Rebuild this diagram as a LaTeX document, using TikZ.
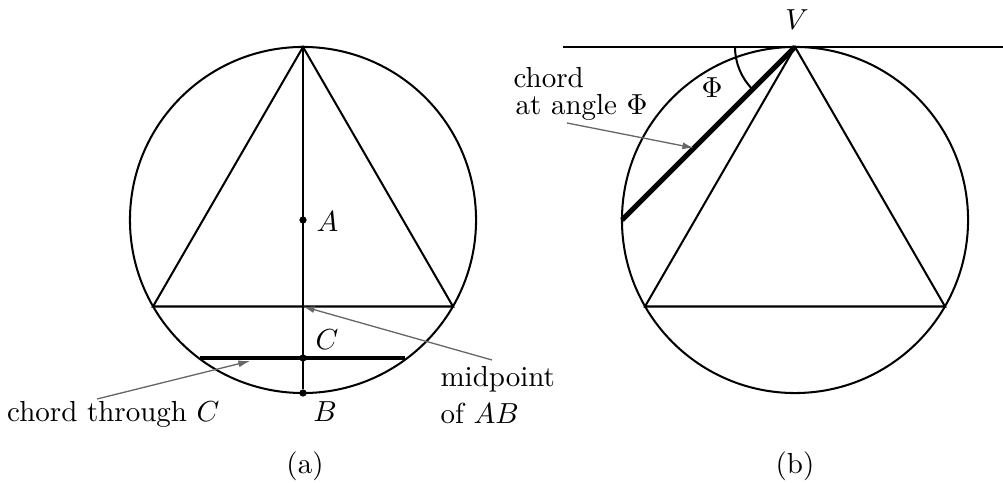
\documentclass[tikz,border=0pt]{standalone}
\usetikzlibrary{arrows.meta,calc}
\begin{document}
\begin{tikzpicture}[x=0.345pt,y=-0.345pt,
  thinline/.style={line width=0.7pt},
  thickchord/.style={line width=1.6pt},
  leader/.style={black!60, line width=0.45pt, -{Latex[length=4pt,width=2.4pt]}},
  dot/.style={circle, fill, inner sep=0pt, minimum size=2.5pt}]
\useasboundingbox (0,0) rectangle (1003,483);
% ---------- (a) ----------
\coordinate (O1) at (303,220);
\draw[thinline] (O1) circle[radius=59.7pt];
\coordinate (T) at (303,47);
\coordinate (L1) at (153,306.5);
\coordinate (R1) at (453,306.5);
\draw[thinline] (T) -- (L1) -- (R1) -- cycle;
\node[dot] (A) at (303,220) {};
\node[dot] (C) at (303,358) {};
\node[dot] (B) at (303,393) {};
\coordinate (M) at (303,306.5);
\draw[thinline] (T) -- (B);
\coordinate (CL) at (200,358);
\coordinate (CR) at (405,358);
\draw[thickchord] (CL) -- (CR);
\node[anchor=west, inner sep=0pt] (Alab) at (316,222) {$A$};
\node (Clab) at (327,340) {$C$};
\node (Blab) at (325,412) {$B$};
\node[anchor=base east, inner sep=0pt] (chC) at (220,421) {chord through $C$};
\node[anchor=base west, inner sep=0pt] (mid1) at (440,387) {midpoint};
\node[anchor=base west, inner sep=0pt] (mid2) at (440,423) {of $AB$};
\coordinate (chs) at (97,399);
\coordinate (che) at (250,361);
\draw[leader] (chs) -- (che);
\coordinate (ms) at (492,360);
\draw[leader] (ms) -- (M);
\node (a) at (305,466) {(a)};
% ---------- (b) ----------
\coordinate (O2) at (795,220);
\draw[thinline] (O2) circle[radius=59.7pt];
\coordinate (V) at (795,47);
\coordinate (L2) at (645,306.5);
\coordinate (R2) at (945,306.5);
\draw[thinline] (V) -- (L2) -- (R2) -- cycle;
\coordinate (tanL) at (563,47);
\coordinate (tanR) at (1003,47);
\draw[thinline] (tanL) -- (tanR);
\coordinate (P) at (622,220);
\draw[line width=1.8pt] (V) -- (P);
\draw[thinline] ($(V)+(-60,0)$) arc[start angle=180,end angle=225,radius=20.7pt];
\node (Vlab) at (797,20) {$V$};
\node (Phi) at (712,88) {$\Phi$};
\node[anchor=base west, inner sep=0pt] (c1) at (513,88) {chord};
\node[anchor=base west, inner sep=0pt] (c2) at (515,115) {at angle $\Phi$};
\coordinate (cls) at (567,123);
\draw[leader] (cls) -- ($(V)!0.584!(P)$);
\node (b) at (795,466) {(b)};
\end{tikzpicture}
\end{document}
